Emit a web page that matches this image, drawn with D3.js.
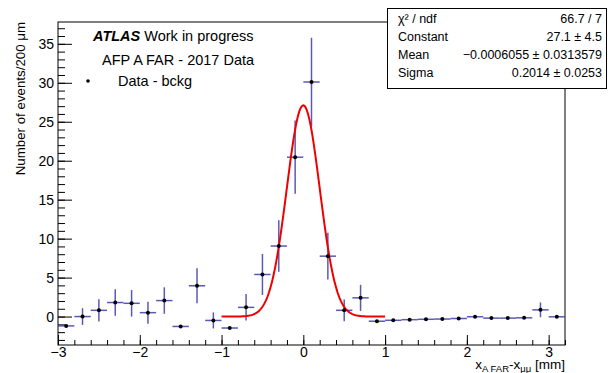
<!DOCTYPE html>
<html>
<head>
<meta charset="utf-8">
<script src="https://cdn.jsdelivr.net/npm/d3@7"></script>
<style>
  body { margin: 0; background: #fff; }
  text { font-family: "Liberation Sans", Arial, sans-serif; }
</style>
</head>
<body>
<div class="chart"></div>
<script>
//-------- Data --------

// bin centres [mm], bin width 0.2
var binCenters = [-2.9, -2.7, -2.5, -2.3, -2.1, -1.9, -1.7, -1.5, -1.3, -1.1, -0.9, -0.7, -0.5, -0.3, -0.1,
  0.1, 0.3, 0.5, 0.7, 0.9, 1.1, 1.3, 1.5, 1.7, 1.9, 2.1, 2.3, 2.5, 2.7, 2.9, 3.1];
// data - background, events per bin
var binValues = [-1.2, 0.0, 0.8, 1.8, 1.7, 0.5, 2.05, -1.27, 3.95, -0.5, -1.47, 1.18, 5.4, 9.05, 20.45,
  30.1, 7.75, 0.8, 2.4, -0.6, -0.48, -0.4, -0.35, -0.32, -0.25, -0.03, -0.2, -0.2, -0.16, 0.86, -0.03];
// vertical error
var binErrors = [0.0, 1.07, 1.43, 1.7, 1.7, 1.41, 1.7, 0.0, 2.24, 1.03, 0.0, 1.7, 2.63, 3.31, 4.7,
  5.68, 3.0, 1.4, 1.67, 0.0, 0.0, 0.0, 0.0, 0.0, 0.0, 0.0, 0.0, 0.0, 0.0, 0.95, 0.0];
var binWidth = 0.2;

// gaussian fit results (stat box)
var fitLabels = ['\u03c7\u00b2 / ndf', 'Constant', 'Mean', 'Sigma'];
var fitTexts = ['66.7 / 7', '27.1 \u00b1 4.5', '\u22120.0006055 \u00b1 0.0313579', '0.2014 \u00b1 0.0253'];
var fitConstant = 27.1, fitMean = -0.0006055, fitSigma = 0.2014;
var fitRange = [-1, 1];

// axis ticks
var xMajorTicks = [-3, -2, -1, 0, 1, 2, 3];
var yMajorTicks = [0, 5, 10, 15, 20, 25, 30, 35];

// legend lines
var legendLines = ['AFP A FAR - 2017 Data', 'Data - bckg'];

//-------- Canvas and scales --------
var opts = { width: 608, height: 373, left: 58, right: 565, top: 22, bottom: 345 };

var svg = d3.select('.chart').append('svg').attr('width', opts.width).attr('height', opts.height);

var x = d3.scaleLinear().domain([-3, 3.2]).range([opts.left, opts.right]);
var y = d3.scaleLinear().domain([-3.65, 37.8]).range([opts.bottom, opts.top]);

//-------- Axes (ROOT style: long major + short minor ticks) --------
var xMinor = d3.range(-3, 3.2001, 0.2).map(function(d) { return Math.round(d * 10) / 10; });
var yMinor = d3.range(-3, 38, 1);

var xAxis = svg.append('g').attr('transform', 'translate(0,' + opts.bottom + ')');
xAxis.call(d3.axisBottom(x).tickValues(xMinor).tickSize(-5).tickFormat(''));
xAxis.call(function(g) {
  g.append('g').call(d3.axisBottom(x).tickValues(xMajorTicks).tickSize(-10).tickPadding(2)
    .tickFormat(function(d) { return d < 0 ? '\u2212' + (-d) : d; }));
});
var yAxis = svg.append('g').attr('transform', 'translate(' + opts.left + ',0)');
yAxis.call(d3.axisLeft(y).tickValues(yMinor).tickSize(-7).tickFormat(''));
yAxis.call(function(g) {
  g.append('g').call(d3.axisLeft(y).tickValues(yMajorTicks).tickSize(-14).tickPadding(4));
});
svg.selectAll('.domain').remove();
svg.selectAll('.tick line').attr('stroke', '#000').attr('stroke-width', 1);
svg.selectAll('.tick text').attr('font-size', 14).attr('fill', '#000')
  .style('font-family', '"Liberation Sans", Arial, sans-serif');

// frame
svg.append('rect').attr('x', opts.left).attr('y', opts.top)
  .attr('width', opts.right - opts.left).attr('height', opts.bottom - opts.top)
  .attr('fill', 'none').attr('stroke', '#000').attr('stroke-width', 1);

//-------- Axis titles --------
var xTitle = svg.append('text').attr('x', opts.right).attr('y', 369).attr('text-anchor', 'end')
  .attr('font-size', 13.5).attr('fill', '#000');
xTitle.append('tspan').text('x');
xTitle.append('tspan').attr('font-size', 9.5).attr('dy', 3).text('A FAR');
xTitle.append('tspan').attr('dy', -3).text('-x');
xTitle.append('tspan').attr('font-size', 9.5).attr('dy', 3).text('\u03bc\u03bc');
xTitle.append('tspan').attr('dy', -3).text(' [mm]');

svg.append('text').attr('transform', 'translate(25,22) rotate(-90)').attr('text-anchor', 'end')
  .attr('font-size', 13.3).attr('fill', '#000').text('Number of events/200 \u03bcm');

//-------- Histogram points with errors --------
var pts = binCenters.map(function(d, i) { return { x: d, y: binValues[i], e: binErrors[i] }; });
var bars = svg.append('g').attr('stroke', '#3d3da8').attr('stroke-opacity', 0.85).attr('stroke-width', 1.5);
bars.selectAll('.hbar').data(pts).enter().append('line').attr('class', 'hbar')
  .attr('x1', function(d) { return x(d.x - binWidth / 2); }).attr('x2', function(d) { return x(d.x + binWidth / 2); })
  .attr('y1', function(d) { return y(d.y); }).attr('y2', function(d) { return y(d.y); });
bars.selectAll('.vbar').data(pts.filter(function(d) { return d.e > 0; })).enter().append('line').attr('class', 'vbar')
  .attr('x1', function(d) { return x(d.x); }).attr('x2', function(d) { return x(d.x); })
  .attr('y1', function(d) { return y(d.y - d.e); }).attr('y2', function(d) { return y(d.y + d.e); });

//-------- Gaussian fit --------
var fitPts = d3.range(fitRange[0], fitRange[1] + 0.0001, 0.01).map(function(t) {
  return [t, fitConstant * Math.exp(-0.5 * Math.pow((t - fitMean) / fitSigma, 2))];
});
svg.append('path').datum(fitPts).attr('fill', 'none').attr('stroke', '#ee0000').attr('stroke-width', 2)
  .attr('d', d3.line().x(function(d) { return x(d[0]); }).y(function(d) { return y(d[1]); }));

svg.append('g').selectAll('.marker').data(pts).enter().append('circle').attr('class', 'marker')
  .attr('cx', function(d) { return x(d.x); }).attr('cy', function(d) { return y(d.y); })
  .attr('r', 2).attr('fill', '#000');

//-------- Legend --------
var atlas = svg.append('text').attr('x', 93).attr('y', 41).attr('font-size', 14.5).attr('fill', '#000');
atlas.append('tspan').attr('font-weight', 'bold').attr('font-style', 'italic').text('ATLAS');
atlas.append('tspan').text(' Work in progress');
svg.append('text').attr('x', 102).attr('y', 65).attr('font-size', 14.5).attr('fill', '#000').text(legendLines[0]);
svg.append('text').attr('x', 118).attr('y', 86).attr('font-size', 14.5).attr('fill', '#000').text(legendLines[1]);
svg.append('circle').attr('cx', 88).attr('cy', 81).attr('r', 1.8).attr('fill', '#000');

//-------- Stat box --------
var box = svg.append('g');
box.append('rect').attr('x', 387.5).attr('y', 8.5).attr('width', 219).attr('height', 80)
  .attr('fill', '#fff').attr('stroke', '#000').attr('stroke-width', 1);
box.selectAll('.slabel').data(fitLabels).enter().append('text').attr('class', 'slabel')
  .attr('x', 398).attr('y', function(d, i) { return 23 + i * 18; })
  .attr('font-size', 12.5).attr('fill', '#000').text(function(d) { return d; });
box.selectAll('.svalue').data(fitTexts).enter().append('text').attr('class', 'svalue')
  .attr('x', 602).attr('y', function(d, i) { return 23 + i * 18; }).attr('text-anchor', 'end')
  .attr('font-size', 12.5).attr('fill', '#000').text(function(d) { return d; });
</script>
</body>
</html>
